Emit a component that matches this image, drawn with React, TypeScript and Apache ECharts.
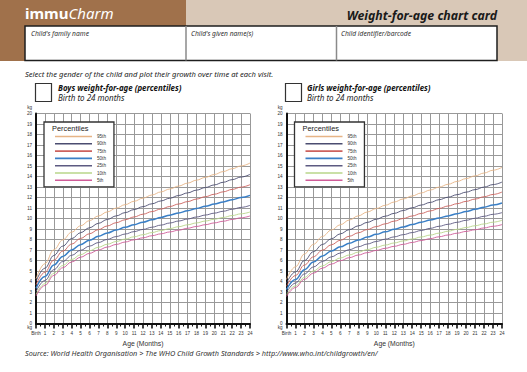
import React, { useEffect, useRef } from "react";
import * as echarts from "echarts";

const months = [0, 1, 2, 3, 4, 5, 6, 7, 8, 9, 10, 11, 12, 13, 14, 15, 16, 17, 18, 19, 20, 21, 22, 23, 24];
const percentileNames = ["95th", "90th", "75th", "50th", "25th", "10th", "5th"];
const yTicks = [0, 1, 2, 3, 4, 5, 6, 7, 8, 9, 10, 11, 12, 13, 14, 15, 16, 17, 18, 19, 20];

const boysP95 = [4.25, 5.7, 7.02, 7.96, 8.7, 9.3, 9.8, 10.24, 10.63, 10.99, 11.32, 11.64, 11.94, 12.24, 12.53, 12.81, 13.09, 13.37, 13.65, 13.92, 14.19, 14.47, 14.74, 15.01, 15.28];
const boysP90 = [4.01, 5.27, 6.48, 7.37, 8.08, 8.65, 9.12, 9.54, 9.91, 10.25, 10.56, 10.85, 11.13, 11.4, 11.67, 11.93, 12.19, 12.44, 12.7, 12.95, 13.2, 13.45, 13.7, 13.95, 14.2];
const boysP75 = [3.68, 4.88, 6.04, 6.89, 7.56, 8.1, 8.55, 8.94, 9.29, 9.6, 9.88, 10.15, 10.41, 10.66, 10.9, 11.14, 11.38, 11.61, 11.85, 12.08, 12.31, 12.54, 12.77, 12.99, 13.22];
const boysP50 = [3.35, 4.47, 5.57, 6.38, 7.0, 7.51, 7.93, 8.3, 8.62, 8.9, 9.16, 9.41, 9.65, 9.87, 10.1, 10.32, 10.53, 10.74, 10.95, 11.16, 11.37, 11.58, 11.79, 11.99, 12.2];
const boysP25 = [3.03, 4.1, 5.13, 5.9, 6.49, 6.97, 7.37, 7.71, 8.01, 8.28, 8.52, 8.75, 8.96, 9.17, 9.37, 9.57, 9.76, 9.95, 10.14, 10.33, 10.51, 10.69, 10.88, 11.06, 11.25];
const boysP10 = [2.78, 3.79, 4.78, 5.52, 6.09, 6.55, 6.93, 7.26, 7.55, 7.81, 8.04, 8.26, 8.46, 8.66, 8.85, 9.04, 9.22, 9.4, 9.58, 9.76, 9.93, 10.1, 10.28, 10.45, 10.62];
const boysP5 = [2.62, 3.62, 4.58, 5.31, 5.86, 6.31, 6.68, 7.0, 7.28, 7.53, 7.76, 7.97, 8.16, 8.36, 8.54, 8.72, 8.89, 9.07, 9.24, 9.41, 9.58, 9.74, 9.91, 10.07, 10.24];

const girlsP95 = [4.2, 5.4, 6.62, 7.54, 8.29, 8.9, 9.41, 9.86, 10.25, 10.62, 10.95, 11.26, 11.57, 11.86, 12.15, 12.43, 12.71, 12.99, 13.26, 13.53, 13.8, 14.06, 14.33, 14.6, 14.87];
const girlsP90 = [3.85, 4.92, 6.0, 6.84, 7.52, 8.07, 8.54, 8.94, 9.3, 9.63, 9.93, 10.22, 10.49, 10.76, 11.02, 11.28, 11.53, 11.79, 12.03, 12.27, 12.51, 12.75, 12.99, 13.23, 13.47];
const girlsP75 = [3.55, 4.57, 5.57, 6.35, 6.98, 7.5, 7.93, 8.31, 8.64, 8.95, 9.23, 9.49, 9.75, 10.0, 10.24, 10.48, 10.72, 10.96, 11.19, 11.41, 11.63, 11.85, 12.07, 12.29, 12.52];
const girlsP50 = [3.23, 4.19, 5.13, 5.85, 6.42, 6.9, 7.3, 7.64, 7.95, 8.23, 8.49, 8.73, 8.97, 9.19, 9.42, 9.64, 9.85, 10.05, 10.25, 10.46, 10.66, 10.87, 11.07, 11.28, 11.48];
const girlsP25 = [2.96, 3.85, 4.72, 5.38, 5.91, 6.35, 6.71, 7.03, 7.31, 7.57, 7.81, 8.03, 8.25, 8.46, 8.66, 8.86, 9.06, 9.26, 9.45, 9.64, 9.83, 10.02, 10.21, 10.4, 10.56];
const girlsP10 = [2.76, 3.58, 4.39, 5.0, 5.49, 5.9, 6.24, 6.53, 6.8, 7.04, 7.26, 7.47, 7.67, 7.86, 8.05, 8.24, 8.42, 8.61, 8.79, 8.97, 9.14, 9.31, 9.48, 9.65, 9.83];
const girlsP5 = [2.58, 3.43, 4.21, 4.79, 5.27, 5.66, 5.98, 6.27, 6.52, 6.75, 6.96, 7.16, 7.35, 7.54, 7.72, 7.9, 8.08, 8.26, 8.43, 8.6, 8.77, 8.93, 9.1, 9.26, 9.42];

const boysSeries = [boysP95, boysP90, boysP75, boysP50, boysP25, boysP10, boysP5];
const girlsSeries = [girlsP95, girlsP90, girlsP75, girlsP50, girlsP25, girlsP10, girlsP5];
const lineColors = ["#e6b486", "#4b4d70", "#cc625e", "#3a7fc6", "#5d5a82", "#b9d68a", "#cf5c98"];

const SANS = "'Noto Sans', 'Open Sans', sans-serif";
const ARIAL = "'Liberation Sans', Arial, sans-serif";

export default function App() {
  const ref = useRef<HTMLDivElement>(null);

  useEffect(() => {
    if (!ref.current) return;
    const chart = echarts.init(ref.current, undefined, { renderer: "svg" });

    const grids = [
      { left: 36, top: 113.5, width: 214, height: 210 },
      { left: 286.5, top: 113.5, width: 215.5, height: 210 },
    ];

    const xAxis = grids.map((_, i) => ({
      type: "value",
      gridIndex: i,
      min: 0,
      max: 24,
      interval: 1,
      axisLine: { show: true, onZero: false, lineStyle: { color: "#111", width: 2 } },
      axisTick: { show: true, length: 5, lineStyle: { color: "#111", width: 1.6 } },
      minorTick: { show: true, splitNumber: 2, length: 3, lineStyle: { color: "#111", width: 1 } },
      axisLabel: {
        fontSize: 4.6,
        color: "#333",
        margin: 7,
        fontFamily: ARIAL,
        formatter: (v: number) => (v === 0 ? "Birth" : String(v)),
      },
      splitLine: { show: true, lineStyle: { color: "#999", width: 1 } },
      name: "Age (Months)",
      nameLocation: "middle",
      nameGap: 16,
      nameTextStyle: { fontSize: 6.8, color: "#333", fontFamily: ARIAL },
    }));

    const yAxis = grids.map((_, i) => ({
      type: "value",
      gridIndex: i,
      min: yTicks[0],
      max: yTicks[yTicks.length - 1],
      interval: 1,
      axisLine: { show: true, onZero: false, lineStyle: { color: "#111", width: 2 } },
      axisTick: { show: false },
      axisLabel: { fontSize: 4.6, color: "#333", margin: 4, fontFamily: ARIAL },
      splitLine: { show: true, lineStyle: { color: "#999", width: 1 } },
    }));

    const series: any[] = [];
    [boysSeries, girlsSeries].forEach((group, gi) => {
      group.forEach((vals, si) => {
        series.push({
          type: "line",
          name: percentileNames[si],
          xAxisIndex: gi,
          yAxisIndex: gi,
          data: months.map((m, k) => [m, vals[k]]),
          smooth: 0.4,
          smoothMonotone: "x",
          showSymbol: false,
          symbol: "none",
          lineStyle: { color: lineColors[si], width: si === 3 ? 1.5 : 0.9 },
          itemStyle: { color: lineColors[si] },
          z: 3,
        });
      });
    });

    const legendBase = {
      orient: "vertical",
      top: 122,
      data: percentileNames,
      icon: "rect",
      itemWidth: 37,
      itemHeight: 1.6,
      itemGap: 2.3,
      padding: [12, 8, 4, 11],
      backgroundColor: "#fff",
      borderColor: "#333",
      borderWidth: 1.3,
      selectedMode: false,
      textStyle: { fontSize: 4.6, color: "#333", fontFamily: ARIAL, lineHeight: 4.6 },
    };

    const small = (t: string, x: number, y: number, size: number, extra: any = {}) => ({
      type: "text",
      x,
      y,
      style: { text: t, verticalAlign: "middle", fill: "#333", font: `italic ${size}px ${SANS}`, ...extra },
    });

    const headerTexts: any[] = [
      { type: "rect", shape: { x: 0, y: 0, width: 186, height: 61 }, style: { fill: "#a0714b" } },
      { type: "rect", shape: { x: 186, y: 0, width: 341, height: 61 }, style: { fill: "#d9c8b7" } },
      {
        type: "text",
        x: 25,
        y: 13,
        style: {
          text: "{a|immu}{b|Charm}",
          verticalAlign: "middle",
          rich: {
            a: { fill: "#fff", fontSize: 15, fontWeight: "bold", fontFamily: SANS },
            b: { fill: "#fff", fontSize: 15, fontStyle: "italic", fontFamily: SANS },
          },
        },
      },
      {
        type: "text",
        x: 497,
        y: 15,
        style: {
          text: "Weight-for-age chart card",
          align: "right",
          verticalAlign: "middle",
          fill: "#1a1a1a",
          font: `italic bold 12.3px ${SANS}`,
        },
      },
      {
        type: "rect",
        shape: { x: 25, y: 26, width: 472, height: 34.5 },
        style: { fill: "#fff", stroke: "#1e1e1e", lineWidth: 1.5 },
      },
      { type: "line", shape: { x1: 186, y1: 26, x2: 186, y2: 60.5 }, style: { stroke: "#8a8a8a", lineWidth: 1.5 } },
      { type: "line", shape: { x1: 336.5, y1: 26, x2: 336.5, y2: 60.5 }, style: { stroke: "#8a8a8a", lineWidth: 1.5 } },
      small("Child's family name", 31, 33.5, 6.7),
      small("Child's given name(s)", 191, 33.5, 6.7),
      small("Child identifier/barcode", 341, 33.5, 6.7),
      small("Select the gender of the child and plot their growth over time at each visit.", 25, 74, 7.6, { fill: "#222" }),
      // boys block
      { type: "rect", shape: { x: 35.5, y: 83.5, width: 16, height: 18 }, style: { fill: "#fff", stroke: "#333", lineWidth: 1.2 } },
      small("Boys weight-for-age (percentiles)", 58, 88, 7.9, { fill: "#111", font: `italic bold 7.9px ${SANS}` }),
      small("Birth to 24 months", 58, 97.5, 8, { fill: "#222" }),
      // girls block
      { type: "rect", shape: { x: 285.5, y: 83.5, width: 16, height: 18 }, style: { fill: "#fff", stroke: "#333", lineWidth: 1.2 } },
      small("Girls weight-for-age (percentiles)", 307, 88, 7.9, { fill: "#111", font: `italic bold 7.9px ${SANS}` }),
      small("Birth to 24 months", 307, 97.5, 8, { fill: "#222" }),
      // kg labels
      { type: "text", x: 32, y: 107, style: { text: "kg", align: "right", verticalAlign: "middle", fill: "#333", font: `4.6px ${ARIAL}` } },
      { type: "text", x: 32, y: 327.5, style: { text: "kg", align: "right", verticalAlign: "middle", fill: "#333", font: `4.6px ${ARIAL}` } },
      { type: "text", x: 282.5, y: 107, style: { text: "kg", align: "right", verticalAlign: "middle", fill: "#333", font: `4.6px ${ARIAL}` } },
      { type: "text", x: 282.5, y: 327.5, style: { text: "kg", align: "right", verticalAlign: "middle", fill: "#333", font: `4.6px ${ARIAL}` } },
      // legend titles
      { type: "text", x: 52, y: 128.5, z: 10, style: { text: "Percentiles", verticalAlign: "middle", fill: "#222", font: `7.4px ${ARIAL}` } },
      { type: "text", x: 302.5, y: 128.5, z: 10, style: { text: "Percentiles", verticalAlign: "middle", fill: "#222", font: `7.4px ${ARIAL}` } },
      // source
      small("Source: World Health Organisation > The WHO Child Growth Standards > http://www.who.int/childgrowth/en/", 25, 353, 7.3),
    ];

    chart.setOption({
      animation: false,
      backgroundColor: "#fff",
      grid: grids,
      xAxis,
      yAxis,
      series,
      legend: [
        { ...legendBase, left: 44 },
        { ...legendBase, left: 294.5 },
      ],
      graphic: headerTexts,
    } as any);

    return () => chart.dispose();
  }, []);

  return (
    <div
      ref={ref}
      style={{ position: "absolute", left: 0, top: 0, width: 527, height: 372 }}
    />
  );
}
